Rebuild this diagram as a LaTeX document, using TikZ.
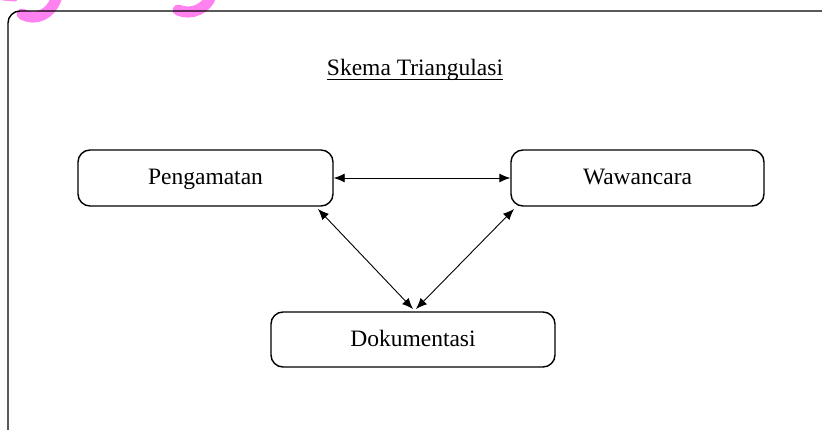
\documentclass[tikz,border=0pt]{standalone}
\usepackage{fontspec}
\setmainfont{Liberation Serif}
\usetikzlibrary{arrows.meta}
\definecolor{wm}{RGB}{255,130,240}
\tikzset{
  box/.style={draw, line width=1.4pt, rounded corners=12pt, inner sep=0pt, text height=16pt, text depth=3pt, font=\fontsize{23.5}{28}\selectfont},
  link/.style={line width=0.9pt, {Latex[length=11pt,width=9pt]}-{Latex[length=11pt,width=9pt]}},
  wmark/.style={draw=wm, line cap=round}
}
\begin{document}
\begin{tikzpicture}[x=1pt,y=-1pt]
\useasboundingbox (0,0) rectangle (822,430);
\clip (0,0) rectangle (822,430);
% watermark fragments
\draw[wmark, line width=11pt] (22,14) .. controls (36,22) and (52,14) .. (57,-4);
\draw[wmark, line width=5pt] (3,-2) -- (15,-1);
\draw[wmark, line width=11pt] (178,10) .. controls (192,16) and (207,8) .. (211,-4);
% outer frame
\draw[line width=1.4pt, rounded corners=12pt] (8,460) -- (8,11) -- (850,11);
% title
\node[font=\fontsize{23.5}{28}\selectfont, inner sep=0pt, anchor=base] (title) at (415,76) {Skema Triangulasi};
\draw[line width=1.6pt] ([yshift=-3.5pt]title.base west) -- ([yshift=-3.5pt]title.base east);
% boxes
\node[box, minimum width=255pt, minimum height=56pt] (peng) at (205.5,178) {Pengamatan};
\node[box, minimum width=253pt, minimum height=56pt] (wawa) at (637.5,178) {Wawancara};
\node[box, minimum width=284pt, minimum height=55pt] (doku) at (413,339.5) {Dokumentasi};
% connectors
\coordinate (pb) at (318,209);
\coordinate (wb) at (514,209);
\coordinate (d1) at (413,309);
\coordinate (d2) at (416,309);
\draw[link] (peng.east) -- (wawa.west);
\draw[link] (pb) -- (d1);
\draw[link] (wb) -- (d2);
\end{tikzpicture}
\end{document}
